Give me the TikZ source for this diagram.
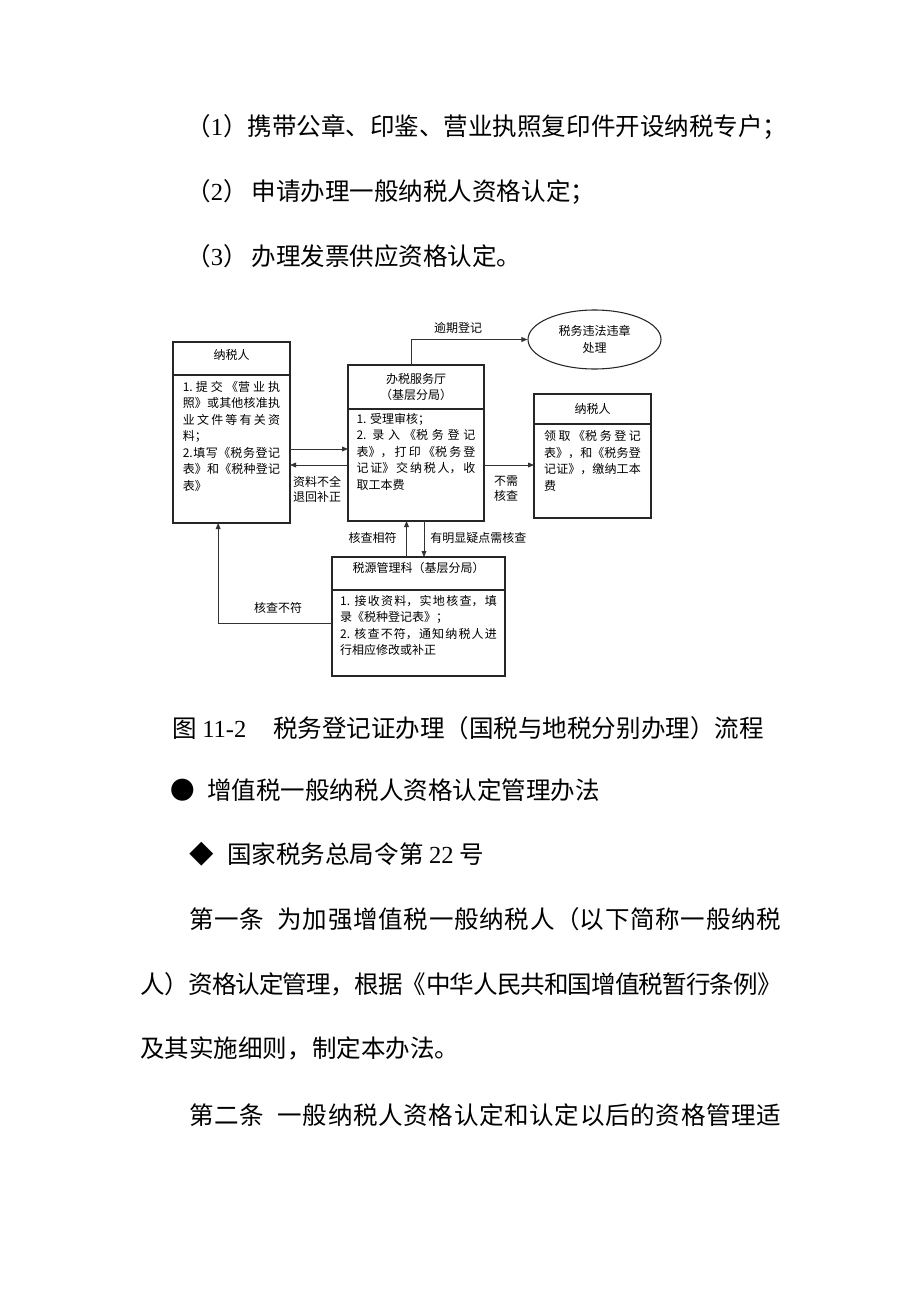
\documentclass[tikz,border=0pt]{standalone}
\usepackage{fontspec}
\setmainfont{Liberation Serif}
\newfontfamily\cjk{Noto Sans CJK SC}
\usetikzlibrary{shapes.geometric,arrows.meta,positioning}
\XeTeXlinebreaklocale "zh"
\XeTeXlinebreakskip=0pt plus 5pt minus 2pt

\definecolor{lncol}{HTML}{333333}
\newcommand{\boxtext}[3]{\parbox[t][#1][t]{#2}{\tolerance=10000\hbadness=10000 #3}}
\newcommand{\jline}[2]{\parbox{#1}{\tolerance=10000\hbadness=10000\parfillskip=0pt\relax #2}}

\tikzset{
  hdr/.style={draw=black!85, line width=0.8pt, inner sep=0pt, outer sep=0pt,
    align=center, font=\cjk\fontsize{9pt}{12pt}\selectfont},
  bodybox/.style={draw=black!85, line width=0.8pt, inner sep=0pt, outer sep=0pt,
    font=\cjk\fontsize{9pt}{12.4pt}\selectfont},
  lbl/.style={inner sep=0pt, align=center, font=\cjk\fontsize{9pt}{11.5pt}\selectfont},
  arr/.style={draw=lncol, line width=0.6pt, -{Triangle[length=4.5pt,width=3.6pt]}},
  para/.style={anchor=west, inner sep=0pt, font=\cjk\fontsize{18.4pt}{22pt}\selectfont}
}

\begin{document}
\begin{tikzpicture}[x=0.75pt,y=-0.75pt]
  \fill[white] (0,0) rectangle (920,1302);
  \useasboundingbox (0,0) rectangle (920,1302);

  % text above the chart
  \node[para] (p1) at (186,127) {\jline{450.75pt}{（{\rmfamily 1}）携带公章、印鉴、营业执照复印件开设纳税专户；}};
  \node[para] (p2) at (186,192) {（{\rmfamily 2}）\hspace{3pt}申请办理一般纳税人资格认定；};
  \node[para] (p3) at (186,256) {（{\rmfamily 3}）\hspace{3pt}办理发票供应资格认定。};

  % boxes
  \node[hdr, minimum width=87.75pt, minimum height=24.75pt, text depth=6.3pt] (lh) at (231.5,358.5) {纳税人};
  \node[bodybox, minimum width=87.75pt, minimum height=111pt, below=0pt of lh] (lb)
    {\boxtext{102pt}{73pt}{1.提交《营业执\linebreak 照》或其他核准执\linebreak 业文件等有关资\linebreak 料；\par
     2.填写《税务登记\linebreak 表》和《税种登记\linebreak 表》}};

  \node[hdr, minimum width=102pt, minimum height=33pt] (mh) at (416,387) {办税服务厅\\（基层分局）};
  \node[bodybox, minimum width=102pt, minimum height=84pt, below=0pt of mh] (mb)
    {\boxtext{78pt}{89.25pt}{1. 受理审核；\par
     2. 录入《税务登记\linebreak 表》，打印《税务登\linebreak 记证》交纳税人，收\linebreak 取工本费}};

  \node[hdr, minimum width=87.75pt, minimum height=22.5pt] (rh) at (592.5,409) {纳税人};
  \node[bodybox, minimum width=87.75pt, minimum height=70.5pt, below=0pt of rh] (rb)
    {\boxtext{60.5pt}{72.5pt}{领取《税务登记\linebreak 表》，和《税务登\linebreak 记证》，缴纳工本\linebreak 费}};

  \node[hdr, minimum width=129.75pt, minimum height=24.75pt, text depth=8.6pt] (bh) at (418.5,573.5) {税源管理科（基层分局）};
  \node[bodybox, minimum width=129.75pt, minimum height=64.5pt, below=0pt of bh] (bb)
    {\boxtext{57pt}{117.5pt}{1. 接收资料，实地核查，填\linebreak 录《税种登记表》；\par
     2. 核查不符，通知纳税人进\linebreak 行相应修改或补正}};

  \node[ellipse, draw=black!85, line width=0.8pt, inner sep=0pt, minimum width=99.75pt, minimum height=44.25pt,
    align=center, font=\cjk\fontsize{9pt}{12.5pt}\selectfont] (el) at (594.5,339.5) {税务违法违章\\处理};

  % connectors
  \draw[arr] ([xshift=-3.2pt]mh.north) |- (el.west);
  \draw[arr] (lb.east) -- (lb.east -| mb.west);
  \draw[arr] (mb.west) -- (mb.west -| lb.east);
  \draw[arr] (mb.east) -- (mb.east -| rb.west);
  \draw[arr] ([xshift=-9pt]bh.north) -- ([xshift=-9pt]bh.north |- mb.south);
  \draw[arr] ([xshift=6pt]mb.south) -- ([xshift=6pt]mb.south |- bh.north);
  \draw[arr] ([yshift=7.5pt]bb.west) -| ([xshift=-10pt]lb.south);

  \node[lbl] (t1) at (458,328) {逾期登记};
  \node[lbl] (t2) at (317,489.5) {资料不全\\退回补正};
  \node[lbl] (t3) at (506,488.5) {不需\\核查};
  \node[lbl, anchor=east] (t4) at (397,538) {核查相符};
  \node[lbl, anchor=west] (t5) at (430,538) {有明显疑点需核查};
  \node[lbl] (t6) at (278,608) {核查不符};

  % text below the chart
  \node[para] (cap) at (172,728) {图 {\rmfamily 11-2}\hspace{20pt}税务登记证办理（国税与地税分别办理）流程};
  \node[para] (b1) at (170,790) {●};
  \node[para] (b2) at (207,790) {增值税一般纳税人资格认定管理办法};
  \node[para] (d1) at (189,854) {◆};
  \node[para] (d2) at (227,854) {国家税务总局令第 {\rmfamily 22} 号};

  \node[para] (a1) at (189,919) {\jline{444pt}{第一条\hspace{10pt}为加强增值税一般纳税人（以下简称一般纳税}};
  \node[para] (a2) at (140,984) {\jline{481.5pt}{人）资格认定管理，根据《中华人民共和国增值税暂行条例》}};
  \node[para] (a3) at (140,1048) {及其实施细则，制定本办法。};
  \node[para] (a4) at (189,1115) {\jline{444pt}{第二条\hspace{10pt}一般纳税人资格认定和认定以后的资格管理适}};
\end{tikzpicture}
\end{document}
